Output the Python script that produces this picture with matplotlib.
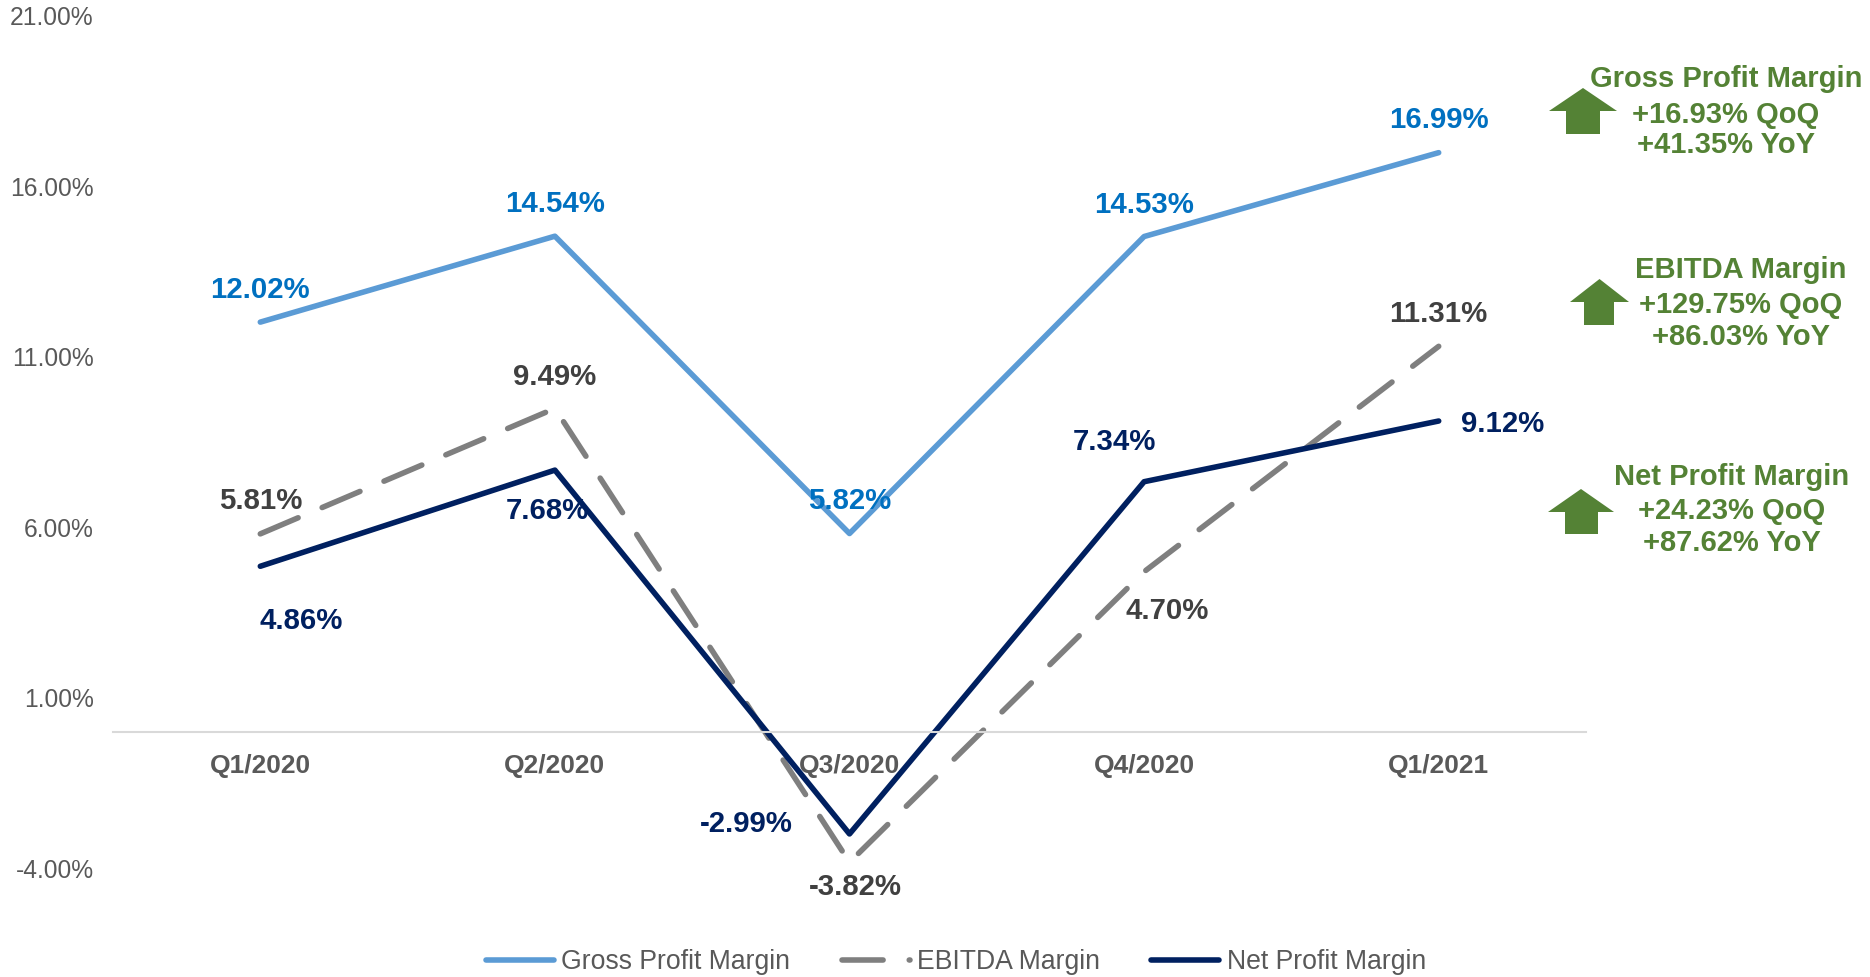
import matplotlib
matplotlib.use("Agg")
import matplotlib.pyplot as plt
from matplotlib.patches import Polygon

plt.rcParams['font.family'] = ['Liberation Sans', 'DejaVu Sans']

# datos
quarters = ["Q1/2020", "Q2/2020", "Q3/2020", "Q4/2020", "Q1/2021"]
gross = [12.02, 14.54, 5.82, 14.53, 16.99]
ebitda = [5.81, 9.49, -3.82, 4.70, 11.31]
net = [4.86, 7.68, -2.99, 7.34, 9.12]
y_ticks = [-4, 1, 6, 11, 16, 21]

gross_notes = ["Gross Profit Margin", "+16.93% QoQ", "+41.35% YoY"]
ebitda_notes = ["EBITDA Margin", "+129.75% QoQ", "+86.03% YoY"]
net_notes = ["Net Profit Margin", "+24.23% QoQ", "+87.62% YoY"]

W, H = 1870, 977
BLUE, GREY, NAVY = "#5B9BD5", "#7F7F7F", "#002060"
GREEN = "#548235"

fig = plt.figure(figsize=(W / 100, H / 100), dpi=100)
ax = fig.add_axes([113 / W, (H - 868.4) / H, 1473 / W, 852.5 / H])

x = range(len(quarters))
ax.plot(x, gross, color=BLUE, lw=4.0, label="Gross Profit Margin", solid_capstyle="round")
ax.plot(x, ebitda, color=GREY, lw=4.0, linestyle=(0, (7.4, 4.7)), dash_capstyle="round",
        label="EBITDA Margin")
ax.plot(x, net, color=NAVY, lw=4.0, label="Net Profit Margin", solid_capstyle="round")

# la posicion del spine reinicia los ticks, va antes de set_xticks
for s in ["top", "right", "left"]:
    ax.spines[s].set_visible(False)
ax.spines["bottom"].set_position(("data", 0))
ax.spines["bottom"].set_color("#D9D9D9")
ax.spines["bottom"].set_linewidth(1.5)

ax.set_xlim(-0.5, 4.5)
ax.set_ylim(-4, 21)
ax.set_xticks(list(x), quarters, fontsize=19, fontweight="bold", color="#595959")
ax.set_yticks(y_ticks, [f"{t:.2f}%" for t in y_ticks], fontsize=17.7, color="#595959")
ax.tick_params(axis="both", length=0)
ax.tick_params(axis="x", pad=16)
ax.tick_params(axis="y", pad=14)


# etiquetas con desplazamiento en pixeles
def etiquetas(valores, offsets, color):
    for i, v in enumerate(valores):
        ax.annotate(f"{v:.2f}%", (i, v), xytext=offsets[i], textcoords="offset pixels",
                    ha="center", va="center", fontsize=21.2, fontweight="bold", color=color,
                    zorder=5)


etiquetas(gross, [(0, 32), (0, 32), (0, 33), (0, 32), (0, 33)], "#0070C0")
etiquetas(ebitda, [(0, 33), (0, 31), (6, -25), (23, -39), (0, 32)], "#404040")
etiquetas(net, [(41, -55), (-8, -41), (-103, 10), (-30, 40), (64, -3)], NAVY)

ax.legend(loc="center", bbox_to_anchor=(956 / W, (H - 962) / H), bbox_transform=fig.transFigure,
          ncol=3, frameon=False, fontsize=19.2, labelcolor="#595959", handlelength=2.55,
          handletextpad=0.28, columnspacing=1.92)


# cuadros de la derecha
def nota(lineas, cx, ys):
    for t, y in zip(lineas, ys):
        fig.text(cx / W, (H - y) / H, t, ha="center", va="center", fontsize=21,
                 fontweight="bold", color=GREEN)


def flecha(left, right, s_left, s_right, tip, shoulder, bottom):
    cx = (left + right) / 2
    pts = [(cx, tip), (right, shoulder), (s_right, shoulder), (s_right, bottom),
           (s_left, bottom), (s_left, shoulder), (left, shoulder)]
    fig.add_artist(Polygon([(a / W, (H - b) / H) for a, b in pts], closed=True,
                           transform=fig.transFigure, facecolor=GREEN, edgecolor="none"))


nota(gross_notes, 1726, [79, 115, 145])
nota(ebitda_notes, 1741, [270, 305, 337])
nota(net_notes, 1732, [477, 511, 543])
flecha(1549, 1617, 1566, 1600, 88, 111, 134)
flecha(1570, 1629, 1584, 1614, 279, 302, 325)
flecha(1548, 1614, 1565, 1598, 489, 512, 534)

fig.savefig("out.png", dpi=100)
